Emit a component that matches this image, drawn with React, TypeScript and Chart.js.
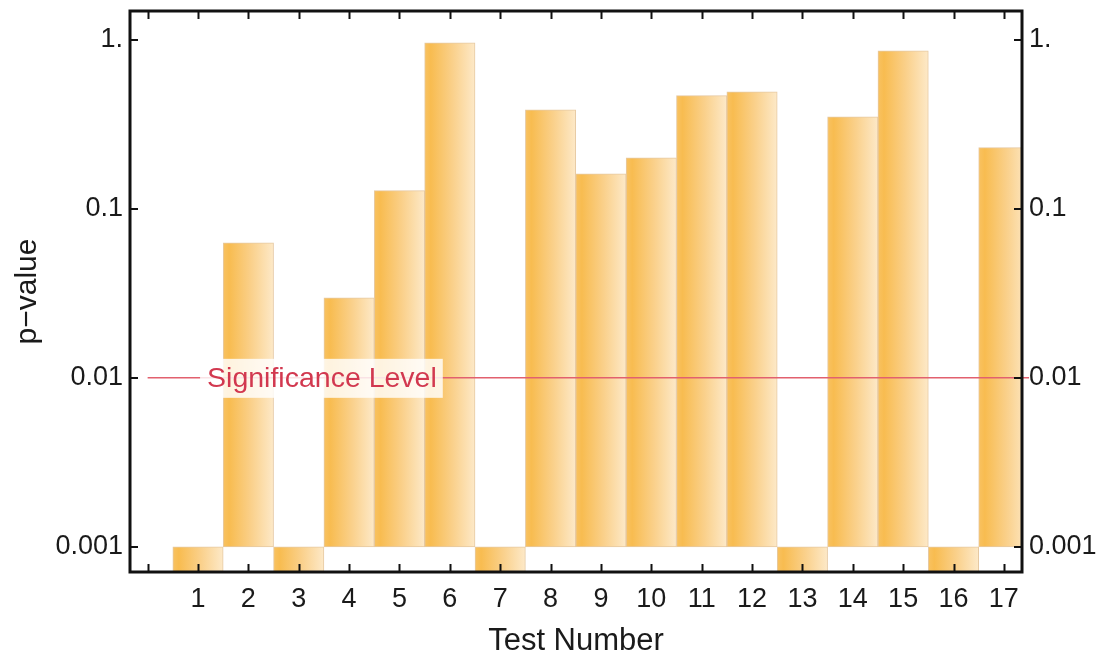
import React, { useEffect, useRef } from "react";
import { Chart, registerables } from "chart.js";

Chart.register(...registerables);

// ---- data ----
const testNumbers = [1, 2, 3, 4, 5, 6, 7, 8, 9, 10, 11, 12, 13, 14, 15, 16, 17];
// values below 0.001 are drawn downward from the 0.001 base (clipped at the axis)
const pValues = [0.0005, 0.063, 0.0005, 0.0297, 0.128, 0.96, 0.0005, 0.385, 0.161, 0.2, 0.467, 0.492, 0.0005, 0.35, 0.86, 0.0005, 0.23];
const barBase = 0.001;
const significanceLevel = 0.01;
const significanceLabel = "Significance Level";
const significanceLineX = [0, 17.5];
const significanceLabelX = 1.18;
const yTickValues = [0.001, 0.01, 0.1, 1];
const yTickLabels = ["0.001", "0.01", "0.1", "1."];
const xTickValues = [0, 1, 2, 3, 4, 5, 6, 7, 8, 9, 10, 11, 12, 13, 14, 15, 16, 17];
const xTickLabels = ["", "1", "2", "3", "4", "5", "6", "7", "8", "9", "10", "11", "12", "13", "14", "15", "16", "17"];
const xRange = [-0.35, 17.36];
const yRange = [0.00071, 1.48];
const xTitle = "Test Number";
const yTitle = "p\u2212value";

const FONT = "'Liberation Sans', Arial, Helvetica, sans-serif";

export default function App() {
  const ref = useRef<HTMLCanvasElement | null>(null);

  useEffect(() => {
    if (!ref.current) return;
    Chart.defaults.font.family = FONT;

    const zeroPad = (s: any) => {
      s.paddingTop = 0;
      s.paddingBottom = 0;
      s.paddingLeft = 0;
      s.paddingRight = 0;
    };

    const framePlugin = {
      id: "frame",
      afterDatasetsDraw(chart: any) {
        const { ctx } = chart;
        const xs = chart.scales.x;
        const ys = chart.scales.y;
        const yPix = ys.getPixelForValue(significanceLevel);
        const xPix = xs.getPixelForValue(significanceLabelX);
        ctx.save();
        ctx.font = `28.5px ${FONT}`;
        const w = ctx.measureText(significanceLabel).width;
        ctx.fillStyle = "rgba(255,255,255,0.82)";
        ctx.fillRect(xPix - 7, yPix - 19, w + 13, 39);
        ctx.fillStyle = "#D2384F";
        ctx.textBaseline = "middle";
        ctx.textAlign = "left";
        ctx.fillText(significanceLabel, xPix, yPix + 1);
        ctx.restore();
      },
      afterDraw(chart: any) {
        const { ctx, chartArea } = chart;
        const { left, right, top, bottom } = chartArea;
        const xs = chart.scales.x;
        const ys = chart.scales.y;
        ctx.save();
        ctx.strokeStyle = "#111";
        ctx.lineWidth = 2;
        const tl = 8;
        ctx.beginPath();
        xTickValues.forEach((v) => {
          const p = Math.round(xs.getPixelForValue(v)) + 0.5;
          ctx.moveTo(p, top);
          ctx.lineTo(p, top + tl);
          ctx.moveTo(p, bottom);
          ctx.lineTo(p, bottom - tl);
        });
        yTickValues.forEach((v) => {
          const p = Math.round(ys.getPixelForValue(v));
          ctx.moveTo(left, p);
          ctx.lineTo(left + tl, p);
          ctx.moveTo(right, p);
          ctx.lineTo(right - tl, p);
        });
        ctx.stroke();
        ctx.lineWidth = 3;
        ctx.strokeRect(left, top, right - left, bottom - top);
        ctx.restore();
      },
    };

    const chart = new Chart(ref.current, {
      type: "bar",
      data: {
        datasets: [
          {
            type: "line",
            order: 0,
            data: significanceLineX.map((x) => ({ x, y: significanceLevel })),
            borderColor: "#E2606E",
            borderWidth: 1.5,
            pointRadius: 0,
            clip: false,
            xAxisID: "x",
            yAxisID: "y",
          } as any,
          {
            type: "bar",
            order: 1,
            data: testNumbers.map((n, i) => ({ x: n, y: [barBase, pValues[i]] })),
            categoryPercentage: 1,
            barPercentage: 1,
            borderWidth: 1,
            borderColor: "#E6C9A2",
            borderSkipped: false,
            xAxisID: "x",
            yAxisID: "y",
            backgroundColor: (c: any) => {
              const chart = c.chart;
              const xs = chart.scales && chart.scales.x;
              if (!xs || c.type !== "data") return "#F9C462";
              const n = testNumbers[c.dataIndex];
              const a = xs.getPixelForValue(n - 0.5);
              const b = xs.getPixelForValue(n + 0.5);
              if (!isFinite(a) || !isFinite(b) || a === b) return "#F9C462";
              const g = chart.ctx.createLinearGradient(a, 0, b, 0);
              g.addColorStop(0, "#F8C262");
              g.addColorStop(0.12, "#F8BC50");
              g.addColorStop(0.55, "#FAD08A");
              g.addColorStop(1, "#FDE9C8");
              return g;
            },
          } as any,
        ],
      },
      options: {
        animation: false,
        responsive: false,
        maintainAspectRatio: false,
        layout: { padding: { top: 11, left: 0, right: 0, bottom: 0 } },
        plugins: { legend: { display: false }, tooltip: { enabled: false } },
        scales: {
          x: {
            type: "linear",
            offset: false,
            min: xRange[0],
            max: xRange[1],
            grid: { display: false, drawTicks: false },
            border: { display: false },
            afterBuildTicks: (s: any) => {
              s.ticks = xTickValues.map((v) => ({ value: v }));
            },
            ticks: {
              autoSkip: false,
              maxRotation: 0,
              padding: 11,
              color: "#1a1a1a",
              font: { size: 27, family: FONT },
              callback: (_v: any, i: number) => xTickLabels[i],
            },
            title: {
              display: true,
              text: xTitle,
              color: "#1a1a1a",
              font: { size: 31, family: FONT },
              padding: { top: 2, bottom: 0 },
            },
            afterFit: (s: any) => {
              s.height = 88;
              zeroPad(s);
            },
          },
          y: {
            type: "logarithmic",
            position: "left",
            min: yRange[0],
            max: yRange[1],
            grid: { display: false, drawTicks: false },
            border: { display: false },
            afterBuildTicks: (s: any) => {
              s.ticks = yTickValues.map((v) => ({ value: v }));
            },
            ticks: {
              autoSkip: false,
              padding: 7,
              color: "#1a1a1a",
              font: { size: 27, family: FONT },
              callback: (_v: any, i: number) => yTickLabels[i],
            },
            title: {
              display: true,
              text: yTitle,
              color: "#1a1a1a",
              font: { size: 30, family: FONT },
              padding: { top: 10, bottom: 0 },
            },
            afterFit: (s: any) => {
              s.width = 130;
              zeroPad(s);
            },
          },
          y2: {
            type: "logarithmic",
            position: "right",
            min: yRange[0],
            max: yRange[1],
            grid: { display: false, drawTicks: false },
            border: { display: false },
            afterBuildTicks: (s: any) => {
              s.ticks = yTickValues.map((v) => ({ value: v }));
            },
            ticks: {
              autoSkip: false,
              padding: 7,
              color: "#1a1a1a",
              font: { size: 27, family: FONT },
              callback: (_v: any, i: number) => yTickLabels[i],
            },
            afterFit: (s: any) => {
              s.width = 81;
              zeroPad(s);
            },
          },
        },
      } as any,
      plugins: [framePlugin],
    });
    return () => chart.destroy();
  }, []);

  return (
    <div style={{ position: "fixed", left: 0, top: 0, width: 1103, height: 660, background: "#fff" }}>
      <canvas ref={ref} width={1103} height={660} style={{ width: 1103, height: 660, display: "block" }} />
    </div>
  );
}
